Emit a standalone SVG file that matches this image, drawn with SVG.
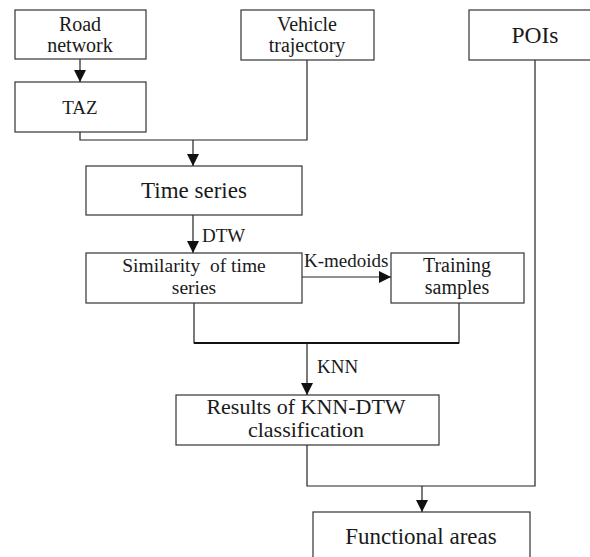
<svg xmlns="http://www.w3.org/2000/svg" width="590" height="557" viewBox="0 0 590 557" font-family="'Liberation Serif', 'DejaVu Serif', serif">
<defs>
<style>
.box{fill:#fff;stroke:#333;stroke-width:1.2}
.ln{fill:none;stroke:#222;stroke-width:1.2}
text{font-family:'Liberation Serif','DejaVu Serif',serif;fill:#1a1a1a}
.t{text-anchor:middle}
.lbl{font-size:19px}
</style>
<marker id="ah" markerUnits="userSpaceOnUse" markerWidth="13" markerHeight="13" refX="12" refY="6" orient="auto">
<path d="M0,0 L12,6 L0,12 z" fill="#111"/>
</marker>
</defs>
<g id="connectors">
<line class="ln" x1="80" y1="59" x2="80" y2="82" marker-end="url(#ah)"/>
<polyline class="ln" points="80,132 80,140 307,140 307,60"/>
<line class="ln" x1="193" y1="140" x2="193" y2="166" marker-end="url(#ah)"/>
<line class="ln" x1="193" y1="215" x2="193" y2="253" marker-end="url(#ah)"/>
<line class="ln" x1="302" y1="277" x2="391" y2="277" marker-end="url(#ah)"/>
<polyline class="ln" points="194,303 194,343 459,343 459,303"/>
<line x1="194" y1="343" x2="459" y2="343" stroke="#111" stroke-width="2.2"/>
<line class="ln" x1="307" y1="343" x2="307" y2="395" marker-end="url(#ah)"/>
<polyline class="ln" points="307,445 307,486 535,486 535,60"/>
<line class="ln" x1="422" y1="486" x2="422" y2="512" marker-end="url(#ah)"/>
<text class="lbl" x="202" y="242">DTW</text>
<text class="lbl" x="304" y="267">K-medoids</text>
<text class="lbl" x="317" y="373">KNN</text>
</g>
<g id="road-network">
<rect class="box" x="15" y="10" width="131" height="49"/>
<text class="t" x="80" y="31" font-size="20">Road</text>
<text class="t" x="80" y="52" font-size="20">network</text>
</g>
<g id="taz">
<rect class="box" x="15" y="82" width="131" height="50"/>
<text class="t" x="80" y="114" font-size="19">TAZ</text>
</g>
<g id="vehicle-trajectory">
<rect class="box" x="241" y="10" width="133" height="50"/>
<text class="t" x="307" y="31" font-size="20">Vehicle</text>
<text class="t" x="307" y="52" font-size="20">trajectory</text>
</g>
<g id="pois">
<rect class="box" x="469" y="10" width="140" height="50"/>
<text class="t" x="535" y="43" font-size="23.5">POIs</text>
</g>
<g id="time-series">
<rect class="box" x="86" y="166" width="216" height="49"/>
<text class="t" x="194" y="198" font-size="23">Time series</text>
</g>
<g id="similarity">
<rect class="box" x="86" y="253" width="216" height="50"/>
<text class="t" x="194" y="272" font-size="19.5" xml:space="preserve">Similarity  of time</text>
<text class="t" x="194" y="294" font-size="19.5">series</text>
</g>
<g id="training-samples">
<rect class="box" x="391" y="253" width="133" height="50"/>
<text class="t" x="457" y="272" font-size="20">Training</text>
<text class="t" x="457" y="294" font-size="20">samples</text>
</g>
<g id="results">
<rect class="box" x="176" y="395" width="263" height="50"/>
<text class="t" x="306" y="414" font-size="22">Results of KNN-DTW</text>
<text class="t" x="306" y="437" font-size="22">classification</text>
</g>
<g id="functional-areas">
<rect class="box" x="313" y="512" width="217" height="60"/>
<text class="t" x="421" y="544" font-size="23">Functional areas</text>
</g>
</svg>
